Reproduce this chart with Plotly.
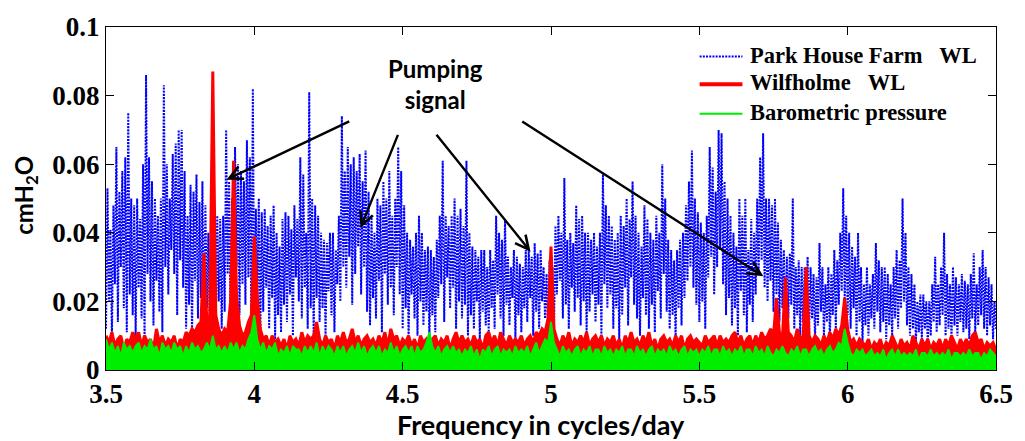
import numpy as np
import plotly.graph_objects as go

# Frequency grid (cycles/day) for the Park House Farm spectrum, 0.005 spacing
phf_start, phf_step, phf_n = 3.5, 0.005, 601
freq_phf = np.round(phf_start + phf_step * np.arange(phf_n), 3)

# Frequency grid for the Wilfholme / barometric spectra, 0.01 spacing
freq_start, freq_step, n_points = 3.5, 0.01, 301
freq = np.round(freq_start + freq_step * np.arange(n_points), 2)

# Amplitude spectrum, Park House Farm water level (cmH2O)
park_house_farm = [
    0.012, 0.053, 0.020, 0.041, 0.009, 0.048, 0.025, 0.065, 0.014, 0.052, 0.030, 0.058, 0.018, 0.062, 0.011, 0.075, 0.022, 0.050, 0.016, 0.048,
    0.010, 0.050, 0.024, 0.044, 0.015, 0.060, 0.008, 0.086, 0.028, 0.062, 0.020, 0.055, 0.013, 0.050, 0.026, 0.045, 0.017, 0.050, 0.011, 0.083,
    0.030, 0.060, 0.022, 0.050, 0.035, 0.063, 0.028, 0.066, 0.016, 0.070, 0.032, 0.070, 0.024, 0.058, 0.012, 0.045, 0.019, 0.054, 0.009, 0.052,
    0.026, 0.057, 0.015, 0.049, 0.021, 0.055, 0.011, 0.048, 0.018, 0.040, 0.010, 0.042, 0.024, 0.045, 0.014, 0.045, 0.020, 0.044, 0.012, 0.045,
    0.017, 0.070, 0.028, 0.055, 0.013, 0.050, 0.022, 0.065, 0.030, 0.060, 0.016, 0.058, 0.025, 0.055, 0.019, 0.067, 0.027, 0.062, 0.014, 0.082,
    0.010, 0.047, 0.020, 0.050, 0.008, 0.046, 0.017, 0.047, 0.024, 0.042, 0.012, 0.045, 0.021, 0.048, 0.009, 0.040, 0.016, 0.036, 0.011, 0.044,
    0.019, 0.046, 0.014, 0.045, 0.022, 0.041, 0.010, 0.048, 0.027, 0.044, 0.020, 0.062, 0.015, 0.057, 0.024, 0.040, 0.012, 0.081, 0.018, 0.050,
    0.009, 0.048, 0.021, 0.045, 0.014, 0.040, 0.018, 0.038, 0.010, 0.037, 0.023, 0.040, 0.016, 0.040, 0.011, 0.035, 0.025, 0.045, 0.020, 0.074,
    0.030, 0.058, 0.024, 0.065, 0.033, 0.060, 0.019, 0.062, 0.028, 0.058, 0.036, 0.063, 0.022, 0.055, 0.030, 0.064, 0.017, 0.052, 0.013, 0.045,
    0.021, 0.040, 0.015, 0.050, 0.026, 0.048, 0.011, 0.055, 0.028, 0.050, 0.019, 0.058, 0.024, 0.045, 0.016, 0.050, 0.030, 0.065, 0.022, 0.058,
    0.012, 0.048, 0.018, 0.040, 0.009, 0.038, 0.022, 0.036, 0.015, 0.040, 0.010, 0.045, 0.020, 0.040, 0.013, 0.035, 0.017, 0.036, 0.008, 0.035,
    0.016, 0.033, 0.011, 0.038, 0.021, 0.045, 0.025, 0.061, 0.014, 0.045, 0.027, 0.042, 0.018, 0.045, 0.024, 0.050, 0.012, 0.045, 0.020, 0.047,
    0.015, 0.042, 0.019, 0.061, 0.010, 0.040, 0.016, 0.036, 0.012, 0.035, 0.020, 0.033, 0.009, 0.035, 0.017, 0.035, 0.013, 0.030, 0.011, 0.035,
    0.018, 0.032, 0.012, 0.045, 0.022, 0.040, 0.015, 0.038, 0.010, 0.044, 0.019, 0.033, 0.013, 0.030, 0.021, 0.035, 0.009, 0.033, 0.016, 0.031,
    0.011, 0.030, 0.018, 0.035, 0.014, 0.035, 0.021, 0.033, 0.010, 0.037, 0.017, 0.034, 0.012, 0.035, 0.020, 0.030, 0.015, 0.028, 0.013, 0.032,
    0.018, 0.030, 0.010, 0.042, 0.022, 0.045, 0.026, 0.040, 0.015, 0.056, 0.019, 0.038, 0.012, 0.040, 0.024, 0.037, 0.017, 0.048, 0.021, 0.044,
    0.013, 0.045, 0.020, 0.040, 0.011, 0.040, 0.017, 0.038, 0.022, 0.040, 0.014, 0.036, 0.019, 0.040, 0.010, 0.057, 0.025, 0.048, 0.018, 0.045,
    0.022, 0.042, 0.012, 0.038, 0.018, 0.040, 0.009, 0.045, 0.016, 0.042, 0.024, 0.050, 0.013, 0.044, 0.027, 0.055, 0.019, 0.045, 0.015, 0.040,
    0.010, 0.036, 0.021, 0.048, 0.016, 0.044, 0.012, 0.040, 0.019, 0.038, 0.011, 0.045, 0.023, 0.040, 0.015, 0.060, 0.028, 0.050, 0.017, 0.038,
    0.012, 0.035, 0.016, 0.032, 0.009, 0.035, 0.018, 0.038, 0.013, 0.040, 0.021, 0.048, 0.026, 0.055, 0.030, 0.064, 0.024, 0.050, 0.019, 0.046,
    0.014, 0.043, 0.020, 0.040, 0.012, 0.045, 0.027, 0.065, 0.033, 0.059, 0.022, 0.052, 0.030, 0.070, 0.035, 0.069, 0.025, 0.055, 0.016, 0.050,
    0.021, 0.045, 0.013, 0.040, 0.018, 0.036, 0.010, 0.050, 0.023, 0.045, 0.016, 0.050, 0.011, 0.035, 0.019, 0.044, 0.014, 0.040, 0.022, 0.050,
    0.028, 0.062, 0.032, 0.069, 0.024, 0.050, 0.020, 0.050, 0.026, 0.048, 0.017, 0.050, 0.022, 0.043, 0.014, 0.038, 0.018, 0.035, 0.011, 0.033,
    0.015, 0.034, 0.019, 0.050, 0.012, 0.030, 0.016, 0.032, 0.010, 0.030, 0.014, 0.030, 0.018, 0.033, 0.011, 0.030, 0.015, 0.028, 0.009, 0.027,
    0.013, 0.037, 0.017, 0.030, 0.010, 0.025, 0.014, 0.030, 0.009, 0.028, 0.016, 0.035, 0.012, 0.032, 0.019, 0.040, 0.023, 0.053, 0.020, 0.045,
    0.016, 0.040, 0.012, 0.036, 0.018, 0.033, 0.010, 0.040, 0.014, 0.030, 0.008, 0.025, 0.013, 0.030, 0.010, 0.025, 0.015, 0.028, 0.012, 0.037,
    0.017, 0.032, 0.011, 0.030, 0.014, 0.030, 0.009, 0.028, 0.013, 0.025, 0.010, 0.030, 0.015, 0.035, 0.012, 0.032, 0.018, 0.050, 0.020, 0.040,
    0.013, 0.030, 0.010, 0.028, 0.012, 0.025, 0.008, 0.020, 0.011, 0.022, 0.009, 0.022, 0.012, 0.020, 0.008, 0.020, 0.010, 0.025, 0.014, 0.033,
    0.011, 0.025, 0.013, 0.030, 0.016, 0.040, 0.010, 0.028, 0.012, 0.025, 0.009, 0.030, 0.013, 0.027, 0.010, 0.025, 0.014, 0.028, 0.011, 0.026,
    0.012, 0.025, 0.009, 0.028, 0.015, 0.034, 0.011, 0.025, 0.013, 0.030, 0.016, 0.035, 0.012, 0.030, 0.010, 0.027, 0.013, 0.025, 0.009, 0.020,
    0.012,
]

# Amplitude spectrum, Wilfholme water level (cmH2O)
wilfholme = [
    0.010, 0.008, 0.011, 0.007, 0.009, 0.010, 0.006, 0.009, 0.008, 0.011,
    0.009, 0.011, 0.007, 0.010, 0.008, 0.009, 0.006, 0.012, 0.008, 0.010,
    0.007, 0.009, 0.008, 0.010, 0.006, 0.009, 0.008, 0.011, 0.010, 0.012,
    0.011, 0.013, 0.014, 0.034, 0.014, 0.016, 0.087, 0.016, 0.012, 0.010,
    0.012, 0.011, 0.020, 0.061, 0.022, 0.013, 0.010, 0.011, 0.014, 0.016,
    0.039, 0.021, 0.012, 0.009, 0.010, 0.007, 0.010, 0.008, 0.009, 0.007,
    0.009, 0.006, 0.010, 0.008, 0.009, 0.007, 0.011, 0.008, 0.010, 0.009,
    0.010, 0.014, 0.009, 0.007, 0.010, 0.008, 0.009, 0.006, 0.010, 0.008,
    0.011, 0.008, 0.009, 0.012, 0.008, 0.010, 0.007, 0.009, 0.010, 0.008,
    0.009, 0.007, 0.010, 0.008, 0.011, 0.007, 0.012, 0.009, 0.010, 0.007,
    0.009, 0.008, 0.010, 0.007, 0.009, 0.006, 0.010, 0.008, 0.009, 0.007,
    0.009, 0.010, 0.007, 0.009, 0.008, 0.010, 0.006, 0.009, 0.011, 0.008,
    0.010, 0.008, 0.009, 0.007, 0.010, 0.008, 0.009, 0.006, 0.010, 0.011,
    0.008, 0.010, 0.007, 0.011, 0.009, 0.007, 0.010, 0.008, 0.009, 0.008,
    0.010, 0.007, 0.009, 0.010, 0.008, 0.011, 0.010, 0.012, 0.011, 0.015,
    0.036, 0.012, 0.009, 0.007, 0.010, 0.008, 0.011, 0.007, 0.009, 0.008,
    0.010, 0.008, 0.011, 0.007, 0.009, 0.010, 0.008, 0.010, 0.007, 0.009,
    0.008, 0.010, 0.007, 0.009, 0.006, 0.010, 0.008, 0.011, 0.008, 0.009,
    0.007, 0.010, 0.008, 0.011, 0.007, 0.009, 0.006, 0.009, 0.010, 0.008,
    0.009, 0.007, 0.010, 0.008, 0.010, 0.006, 0.009, 0.010, 0.008, 0.009,
    0.008, 0.007, 0.010, 0.008, 0.009, 0.010, 0.007, 0.010, 0.008, 0.009,
    0.008, 0.010, 0.011, 0.008, 0.010, 0.007, 0.009, 0.010, 0.007, 0.010,
    0.008, 0.011, 0.009, 0.010, 0.012, 0.010, 0.021, 0.011, 0.009, 0.027,
    0.011, 0.010, 0.008, 0.012, 0.009, 0.010, 0.030, 0.010, 0.008, 0.010,
    0.009, 0.007, 0.010, 0.008, 0.011, 0.009, 0.012, 0.010, 0.013, 0.021,
    0.012, 0.008, 0.009, 0.007, 0.009, 0.008, 0.007, 0.009, 0.006, 0.008,
    0.007, 0.009, 0.006, 0.008, 0.007, 0.010, 0.008, 0.006, 0.009, 0.007,
    0.008, 0.006, 0.010, 0.008, 0.006, 0.009, 0.007, 0.009, 0.006, 0.008,
    0.007, 0.009, 0.006, 0.009, 0.007, 0.010, 0.008, 0.006, 0.009, 0.007,
    0.009, 0.007, 0.010, 0.011, 0.008, 0.009, 0.006, 0.008, 0.007, 0.008,
    0.006,
]

# Amplitude spectrum, barometric pressure (cmH2O)
barometric = [
    0.009, 0.006, 0.008, 0.005, 0.007, 0.004, 0.008, 0.006, 0.007, 0.005,
    0.007, 0.008, 0.005, 0.007, 0.006, 0.009, 0.006, 0.007, 0.004, 0.008,
    0.006, 0.007, 0.005, 0.008, 0.006, 0.007, 0.004, 0.007, 0.005, 0.008,
    0.006, 0.007, 0.005, 0.006, 0.008, 0.006, 0.010, 0.006, 0.007, 0.005,
    0.007, 0.005, 0.008, 0.006, 0.008, 0.005, 0.007, 0.006, 0.009, 0.011,
    0.016, 0.009, 0.006, 0.008, 0.005, 0.007, 0.006, 0.008, 0.004, 0.006,
    0.005, 0.007, 0.004, 0.007, 0.006, 0.006, 0.004, 0.007, 0.005, 0.007,
    0.005, 0.008, 0.004, 0.007, 0.005, 0.007, 0.006, 0.004, 0.007, 0.005,
    0.007, 0.004, 0.006, 0.007, 0.005, 0.008, 0.005, 0.007, 0.004, 0.006,
    0.007, 0.005, 0.007, 0.004, 0.006, 0.005, 0.008, 0.005, 0.007, 0.004,
    0.006, 0.007, 0.005, 0.007, 0.004, 0.007, 0.005, 0.006, 0.008, 0.011,
    0.007, 0.005, 0.007, 0.004, 0.006, 0.007, 0.005, 0.007, 0.005, 0.006,
    0.004, 0.006, 0.005, 0.007, 0.004, 0.006, 0.003, 0.006, 0.005, 0.007,
    0.004, 0.006, 0.007, 0.004, 0.006, 0.005, 0.006, 0.004, 0.007, 0.005,
    0.006, 0.005, 0.007, 0.004, 0.006, 0.008, 0.005, 0.007, 0.009, 0.008,
    0.014, 0.008, 0.006, 0.004, 0.007, 0.005, 0.006, 0.004, 0.006, 0.007,
    0.004, 0.006, 0.005, 0.007, 0.004, 0.006, 0.006, 0.004, 0.007, 0.005,
    0.006, 0.004, 0.006, 0.005, 0.007, 0.004, 0.006, 0.006, 0.004, 0.007,
    0.005, 0.006, 0.004, 0.006, 0.007, 0.004, 0.006, 0.005, 0.006, 0.004,
    0.007, 0.005, 0.006, 0.004, 0.006, 0.007, 0.004, 0.006, 0.005, 0.006,
    0.004, 0.006, 0.005, 0.007, 0.004, 0.006, 0.006, 0.004, 0.007, 0.005,
    0.006, 0.004, 0.006, 0.005, 0.007, 0.004, 0.006, 0.006, 0.004, 0.007,
    0.005, 0.006, 0.004, 0.007, 0.005, 0.004, 0.006, 0.005, 0.007, 0.005,
    0.004, 0.006, 0.005, 0.007, 0.004, 0.006, 0.006, 0.004, 0.006, 0.007,
    0.005, 0.006, 0.004, 0.006, 0.007, 0.005, 0.006, 0.008, 0.007, 0.012,
    0.008, 0.005, 0.004, 0.006, 0.005, 0.006, 0.004, 0.005, 0.006, 0.004,
    0.005, 0.004, 0.006, 0.003, 0.005, 0.006, 0.004, 0.006, 0.004, 0.005,
    0.004, 0.005, 0.004, 0.006, 0.003, 0.005, 0.005, 0.004, 0.006, 0.004,
    0.005, 0.004, 0.005, 0.004, 0.006, 0.003, 0.005, 0.005, 0.004, 0.005,
    0.004, 0.006, 0.004, 0.005, 0.005, 0.003, 0.005, 0.004, 0.006, 0.005,
    0.004,
]

x_ticks = [3.5, 4, 4.5, 5, 5.5, 6, 6.5]
x_tick_labels = ["3.5", "4", "4.5", "5", "5.5", "6", "6.5"]
y_ticks = [0, 0.02, 0.04, 0.06, 0.08, 0.1]
y_tick_labels = ["0", "0.02", "0.04", "0.06", "0.08", "0.1"]

series_names = [
    "Park House Farm\u00a0\u00a0\u00a0WL",
    "Wilfholme\u00a0\u00a0\u00a0WL",
    "Barometric pressure",
]

# (tail x, tail y, head x, head y) for the "Pumping signal" callouts
pump_arrows = [
    (4.325, 0.0727, 3.906, 0.0555),
    (4.486, 0.0690, 4.358, 0.0414),
    (4.610, 0.0690, 4.931, 0.0345),
    (4.898, 0.0727, 5.716, 0.0273),
]

serif = "Liberation Serif, Times New Roman, serif"
sans = "Lato, Open Sans, sans-serif"

BLUE = "#0000ff"
RED = "#ff0000"
GREEN = "#00ee00"
BLUE_DASH = "2px,1.2px"

fig = go.Figure()
fig.add_trace(go.Scatter(
    x=freq_phf, y=park_house_farm, mode="lines", name=series_names[0],
    line=dict(color=BLUE, width=2, dash=BLUE_DASH),
))
# the dense Wilfholme spectrum reads as a solid band down to zero
fig.add_trace(go.Scatter(
    x=freq, y=wilfholme, mode="lines", fill="tozeroy", fillcolor=RED,
    line=dict(color=RED, width=0), hoverinfo="skip",
))
fig.add_trace(go.Scatter(
    x=freq, y=wilfholme, mode="lines", name=series_names[1],
    line=dict(color=RED, width=3),
))
fig.add_trace(go.Scatter(
    x=freq, y=barometric, mode="lines", fill="tozeroy", fillcolor=GREEN,
    line=dict(color=GREEN, width=0), hoverinfo="skip",
))
fig.add_trace(go.Scatter(
    x=freq, y=barometric, mode="lines", name=series_names[2],
    line=dict(color=GREEN, width=1.8),
))

annotations = []
for tx, ty, hx, hy in pump_arrows:
    annotations.append(dict(
        x=hx, y=hy, xref="x", yref="y",
        ax=tx, ay=ty, axref="x", ayref="y",
        text="", showarrow=True, arrowhead=5, arrowsize=1.1,
        arrowwidth=2.4, arrowcolor="#000000",
    ))
annotations.append(dict(
    x=4.61, y=0.0835, xref="x", yref="y",
    text="Pumping<br>signal", showarrow=False,
    font=dict(family=sans, size=24, color="#000000", weight="bold"),
    align="center", xanchor="center", yanchor="middle",
))
annotations.append(dict(
    x=0.489, y=-0.158, xref="paper", yref="paper",
    text="Frequency in cycles/day", showarrow=False,
    font=dict(family=sans, size=27, color="#000000", weight="bold"),
    xanchor="center", yanchor="middle",
))
annotations.append(dict(
    x=-0.0905, y=0.509, xref="paper", yref="paper",
    text="cmH<sub>2</sub>O", showarrow=False, textangle=-90,
    font=dict(family=sans, size=24, color="#000000", weight="bold"),
    xanchor="center", yanchor="middle",
))

# legend drawn as sample lines plus labels in the upper right of the axes
legend_rows_y = [0.9138, 0.8333, 0.7471]
legend_line_x0, legend_line_x1, legend_text_x = 0.667, 0.7151, 0.7218
legend_styles = [
    dict(color=BLUE, width=2, dash=BLUE_DASH),
    dict(color=RED, width=4),
    dict(color=GREEN, width=2),
]
shapes = []
for name, row_y, style in zip(series_names, legend_rows_y, legend_styles):
    shapes.append(dict(
        type="line", xref="paper", yref="paper",
        x0=legend_line_x0, x1=legend_line_x1, y0=row_y, y1=row_y, line=style,
    ))
    annotations.append(dict(
        x=legend_text_x, y=row_y + 0.004, xref="paper", yref="paper",
        text=name, showarrow=False, xanchor="left", yanchor="middle",
        font=dict(family=serif, size=22.5, color="#000000", weight="bold"),
    ))

axis_common = dict(
    showline=True, linecolor="#000000", linewidth=1,
    mirror="ticks", ticks="inside", ticklen=8, tickcolor="#000000",
    showgrid=False, zeroline=False,
    tickfont=dict(family=serif, size=27, color="#000000", weight="bold"),
)

fig.update_layout(
    width=1025, height=441,
    margin=dict(l=106, r=24, t=22, b=71),
    paper_bgcolor="#ffffff", plot_bgcolor="#ffffff",
    showlegend=False,
    xaxis=dict(range=[3.5, 6.5], tickvals=x_ticks, ticktext=x_tick_labels, **axis_common),
    yaxis=dict(range=[0, 0.1], tickvals=y_ticks, ticktext=y_tick_labels, **axis_common),
    annotations=annotations,
    shapes=shapes,
)

fig.write_html("out.html")
